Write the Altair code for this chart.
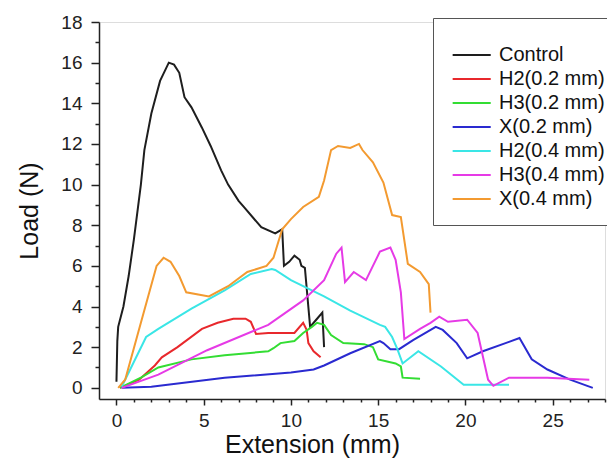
import altair as alt
import pandas as pd

series_names = ["Control", "H2(0.2 mm)", "H3(0.2 mm)", "X(0.2 mm)",
                "H2(0.4 mm)", "H3(0.4 mm)", "X(0.4 mm)"]
series_colors = ["#1e1e1e", "#e8282c", "#33dd33", "#2a2ad0",
                 "#3ae6e6", "#e63ae6", "#f39a30"]

ctrl_x = [0.0, 0.05, 0.1, 0.4, 0.7, 1.0, 1.4, 1.6, 2.0, 2.5, 3.0, 3.3, 3.6, 3.9, 4.3,
          4.9, 5.4, 6.0, 6.4, 7.0, 7.3, 8.3, 9.1, 9.5, 9.6, 9.9, 10.2, 10.5, 10.6,
          10.8, 11.1, 11.4, 11.8, 11.9]
ctrl_y = [0.3, 2.3, 3.0, 4.0, 5.5, 7.3, 10.0, 11.7, 13.5, 15.1, 16.0, 15.9, 15.5, 14.3,
          13.8, 12.8, 11.9, 10.7, 10.0, 9.2, 8.9, 7.9, 7.6, 7.8, 6.0, 6.2, 6.5,
          6.3, 6.0, 5.9, 3.0, 3.3, 3.7, 2.0]

h2a_x = [0.2, 1.3, 2.2, 2.6, 3.5, 4.9, 5.8, 6.7, 7.4, 7.7, 8.0, 8.7, 10.2, 10.7,
         10.9, 11.0, 11.3, 11.7]
h2a_y = [0.0, 0.4, 1.1, 1.5, 2.0, 2.9, 3.2, 3.4, 3.4, 3.25, 2.65, 2.7, 2.7, 3.2,
         2.85, 2.2, 1.8, 1.5]

h3a_x = [0.2, 1.4, 2.4, 4.3, 6.2, 8.7, 9.0, 9.4, 10.2, 10.7, 11.2, 11.5, 11.9,
         12.3, 13.0, 14.2, 14.7, 15.0, 16.0, 16.3, 16.4, 17.4]
h3a_y = [0.0, 0.5, 1.0, 1.4, 1.6, 1.8, 1.95, 2.2, 2.3, 2.7, 3.0, 3.2, 3.1,
         2.6, 2.2, 2.15, 2.0, 1.4, 1.2, 1.05, 0.5, 0.45]

xa_x = [0.3, 2.0, 6.2, 10.0, 11.3, 11.9, 13.4, 15.1, 15.3, 15.7, 16.2, 17.0, 18.3,
        18.7, 19.5, 20.1, 21.0, 22.3, 23.1, 23.8, 24.7, 26.0, 27.3]
xa_y = [0.0, 0.05, 0.5, 0.75, 0.9, 1.1, 1.7, 2.3, 2.2, 1.9, 1.9, 2.35, 3.0,
        2.85, 2.2, 1.45, 1.8, 2.2, 2.45, 1.4, 0.9, 0.4, 0.0]

h2b_x = [0.3, 1.7, 2.4, 4.3, 6.2, 7.7, 8.9, 9.1, 10.0, 11.9, 13.4, 15.1, 15.4,
         15.8, 16.1, 16.4, 17.3, 18.6, 19.9, 22.5]
h2b_y = [0.05, 2.5, 2.9, 3.9, 4.8, 5.6, 5.85, 5.8, 5.3, 4.5, 3.8, 3.1, 3.0,
         2.5, 1.9, 1.2, 1.8, 1.05, 0.15, 0.15]

h3b_x = [0.3, 2.4, 5.2, 8.7, 10.7, 11.9, 12.6, 12.9, 13.1, 13.6, 14.3, 15.1, 15.7,
         16.0, 16.3, 16.5, 17.4, 18.0, 18.5, 19.0, 20.1, 20.7, 21.3, 21.6, 22.5,
         24.7, 27.1]
h3b_y = [0.0, 0.65, 1.85, 3.1, 4.3, 5.3, 6.6, 6.9, 5.2, 5.7, 5.3, 6.7, 6.9,
         6.3, 4.7, 2.4, 2.9, 3.2, 3.5, 3.25, 3.35, 2.7, 0.4, 0.1, 0.5,
         0.5, 0.4]

xb_x = [0.1, 0.5, 1.4, 2.3, 2.7, 3.1, 3.6, 4.0, 5.3, 6.4, 7.5, 8.6, 9.0, 9.5,
        10.0, 10.7, 11.6, 11.9, 12.3, 12.7, 13.4, 13.9, 14.1, 14.7, 15.3, 15.8,
        16.3, 16.7, 17.4, 17.9, 18.0]
xb_y = [0.0, 0.4, 3.2, 6.0, 6.4, 6.2, 5.5, 4.7, 4.5, 5.0, 5.7, 6.0, 6.4, 7.8,
        8.3, 8.9, 9.4, 10.2, 11.7, 11.9, 11.8, 12.0, 11.7, 11.1, 10.1, 8.5,
        8.4, 6.1, 5.7, 5.1, 3.7]

x_lists = [ctrl_x, h2a_x, h3a_x, xa_x, h2b_x, h3b_x, xb_x]
y_lists = [ctrl_y, h2a_y, h3a_y, xa_y, h2b_y, h3b_y, xb_y]

rows = []
for name, xs, ys in zip(series_names, x_lists, y_lists):
    for i, (xv, yv) in enumerate(zip(xs, ys)):
        rows.append({"series": name, "ext": xv, "load": yv, "idx": i})
df = pd.DataFrame(rows)

FONT = "Liberation Sans"

x_ticks = list(range(0, 29))
y_ticks = list(range(0, 19))

chart = alt.Chart(df).mark_line(strokeWidth=2).encode(
    x=alt.X("ext:Q",
            scale=alt.Scale(domain=[-1, 28], nice=False, zero=False),
            axis=alt.Axis(
                title="Extension (mm)",
                values=x_ticks,
                labelExpr="datum.value % 5 === 0 ? datum.label : ''",
                tickSize={"condition": {"test": "datum.value % 5 === 0", "value": 6}, "value": 3},
                grid=False, domainColor="#222", tickColor="#222",
                domainWidth=1.5, tickWidth=1.5,
                labelFont=FONT, labelFontSize=19, labelColor="#222",
                labelPadding=6, labelFlush=False,
                titleFont=FONT, titleFontSize=25, titleFontWeight="normal",
                titleColor="#111", titlePadding=2, titleX=213)),
    y=alt.Y("load:Q",
            scale=alt.Scale(domain=[-0.55, 18], nice=False, zero=False),
            axis=alt.Axis(
                title="Load (N)",
                values=y_ticks,
                labelExpr="datum.value % 2 === 0 ? datum.label : ''",
                tickSize={"condition": {"test": "datum.value % 2 === 0", "value": 8}, "value": 4},
                grid=False, domainColor="#222", tickColor="#222",
                domainWidth=1.5, tickWidth=1.5,
                labelFont=FONT, labelFontSize=19, labelColor="#222",
                labelPadding=9, labelFlush=False,
                titleFont=FONT, titleFontSize=25, titleFontWeight="normal",
                titleColor="#111", titlePadding=18)),
    color=alt.Color("series:N",
                    scale=alt.Scale(domain=series_names, range=series_colors),
                    legend=alt.Legend(
                        title=" ", titleFontSize=9, titlePadding=2,
                        orient="none", legendX=334, legendY=-4,
                        symbolType="M-1,0L5,0", symbolSize=161, symbolStrokeWidth=2,
                        labelFont=FONT, labelFontSize=20, labelColor="#111",
                        labelOffset=30, rowPadding=4,
                        padding=16, strokeColor="#555", fillColor="white",
                        labelLimit=300)),
    order=alt.Order("idx:Q"),
).properties(
    width=506, height=377,
    autosize=alt.AutoSizeParams(type="none"),
    padding={"left": 91, "top": 14, "right": 2, "bottom": 60},
).configure_view(stroke=None).configure(background="white")

chart.save("out.html", embed_options={"renderer": "svg", "actions": False})
